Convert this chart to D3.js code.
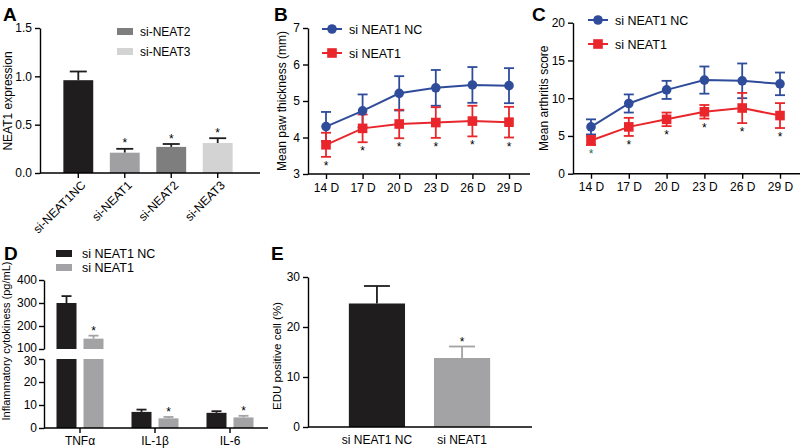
<!DOCTYPE html>
<html>
<head>
<meta charset="utf-8">
<script src="https://cdn.jsdelivr.net/npm/d3@7"></script>
<style>
body { margin: 0; background: #fff; }
svg { font-family: "Liberation Sans", Arial, sans-serif; }
.axis path, .axis line { stroke: #000; stroke-width: 1.4; }
.axis text { font-size: 12px; fill: #000; font-family: "Liberation Sans", Arial, sans-serif; }
</style>
</head>
<body>
<svg id="fig" width="800" height="448"></svg>
<script>
// ---- data ----
const aGroups = ["si-NEAT1NC", "si-NEAT1", "si-NEAT2", "si-NEAT3"];
const aMean = [0.96, 0.21, 0.27, 0.31];
const aErr = [0.09, 0.04, 0.03, 0.05];
const aStar = [false, true, true, true];
const aLegend = ["si-NEAT2", "si-NEAT3"];

const days = ["14 D", "17 D", "20 D", "23 D", "26 D", "29 D"];
const seriesNames = ["si NEAT1 NC", "si NEAT1"];
const bNC = [4.3, 4.73, 5.21, 5.36, 5.44, 5.42];
const bNCErr = [0.4, 0.45, 0.47, 0.49, 0.49, 0.48];
const bSi = [3.8, 4.25, 4.37, 4.41, 4.45, 4.42];
const bSiErr = [0.33, 0.38, 0.39, 0.42, 0.42, 0.42];

const cNC = [6.2, 9.3, 11.1, 12.4, 12.3, 11.9];
const cNCErr = [1.0, 1.2, 1.2, 1.8, 2.3, 1.5];
const cSi = [4.4, 6.2, 7.2, 8.2, 8.7, 7.7];
const cSiErr = [0.6, 1.2, 0.9, 0.9, 2.0, 1.65];

const dCats = ["TNFα", "IL-1β", "IL-6"];
const dNC = [300, 7.0, 6.6];
const dNCErr = [30, 1.0, 0.7];
const dSi = [145, 4.2, 4.6];
const dSiErr = [13, 0.6, 0.7];

const eGroups = ["si NEAT1 NC", "si NEAT1"];
const eMean = [24.7, 13.8];
const eErr = [3.5, 2.3];

// ---- style ----
const black = "#1f1d1e";
const gray = "#a3a3a5";
const aColors = [black, "#a0a0a2", "#7e7e7f", "#d3d3d3"];
const blue = "#2f4c9b";
const red = "#e8262b";

const svg = d3.select("#fig");

function letter(t, x, y) {
  svg.append("text").attr("x", x).attr("y", y)
    .attr("font-size", 19).attr("font-weight", "bold").text(t);
}
function star(x, y, color) {
  svg.append("text").attr("x", x).attr("y", y)
    .attr("text-anchor", "middle").attr("font-size", 12)
    .attr("fill", color || "#000").text("*");
}
function yTitle(t, x, y, size) {
  svg.append("text")
    .attr("transform", `translate(${x},${y}) rotate(-90)`)
    .attr("text-anchor", "middle").attr("font-size", size || 12).text(t);
}
function hline(x1, x2, y) {
  svg.append("line").attr("x1", x1).attr("x2", x2).attr("y1", y).attr("y2", y)
    .attr("stroke", "#000").attr("stroke-width", 1.4);
}
function errBar(x, y1, y2, w, color) {
  svg.append("line").attr("x1", x).attr("x2", x).attr("y1", y1).attr("y2", y2)
    .attr("stroke", color).attr("stroke-width", 1.8);
  svg.append("line").attr("x1", x - w / 2).attr("x2", x + w / 2).attr("y1", y2).attr("y2", y2)
    .attr("stroke", color).attr("stroke-width", 1.8);
}

// ================= Panel A =================
letter("A", 3, 21);
const yA = d3.scaleLinear().domain([0, 1.5]).range([173, 28]);
const xA = d3.scaleBand().domain(aGroups).range([55, 241]).paddingInner(0.357).paddingOuter(0.18);

aGroups.forEach((g, i) => {
  const cx = xA(g) + xA.bandwidth() / 2;
  errBar(cx, yA(aMean[i]), yA(aMean[i] + aErr[i]), 17, black);
});
svg.append("g").selectAll("rect").data(aGroups).join("rect")
  .attr("x", d => xA(d)).attr("width", xA.bandwidth())
  .attr("y", (d, i) => yA(aMean[i])).attr("height", (d, i) => yA(0) - yA(aMean[i]))
  .attr("fill", (d, i) => aColors[i]);
aGroups.forEach((g, i) => {
  if (aStar[i]) star(xA(g) + xA.bandwidth() / 2, yA(aMean[i] + aErr[i]) - 1.5);
});
svg.append("g").attr("class", "axis").attr("transform", "translate(40,0)")
  .call(d3.axisLeft(yA).tickValues([0, 0.5, 1.0, 1.5]).tickFormat(d3.format(".1f")).tickSize(5).tickSizeOuter(0));
hline(40, 260, 173);
svg.append("g").attr("class", "axis").attr("transform", "translate(0,173)")
  .call(d3.axisBottom(xA).tickSize(5).tickFormat(""))
  .call(g => g.select(".domain").remove());
svg.append("g").selectAll("text").data(aGroups).join("text")
  .attr("transform", d => `translate(${xA(d) + xA.bandwidth() / 2 + 5},${183}) rotate(-45)`)
  .attr("text-anchor", "end").attr("dy", "0.35em").attr("font-size", 12).text(d => d);
aLegend.forEach((t, i) => {
  svg.append("rect").attr("x", 117).attr("y", 28 + i * 20).attr("width", 16).attr("height", 7)
    .attr("fill", aColors[i + 2]);
  svg.append("text").attr("x", 140).attr("y", 36 + i * 20).attr("font-size", 12).text(t);
});
yTitle("NEAT1 expression", 12, 101);

// ================= Line panels B and C =================
function linePanel(opt) {
  const x = d3.scalePoint().domain(days).range(opt.xr);
  const y = d3.scaleLinear().domain(opt.yd).range(opt.yr);
  const sets = [
    { v: opt.nc, e: opt.ncErr, c: blue, shape: "circle" },
    { v: opt.si, e: opt.siErr, c: red, shape: "square" }
  ];
  sets.forEach(s => {
    days.forEach((d, i) => {
      errBar(x(d), y(s.v[i]), y(s.v[i] + s.e[i]), 10, s.c);
      errBar(x(d), y(s.v[i]), y(s.v[i] - s.e[i]), 10, s.c);
    });
  });
  sets.forEach(s => {
    svg.append("path").datum(s.v)
      .attr("fill", "none").attr("stroke", s.c).attr("stroke-width", 2)
      .attr("d", d3.line().x((v, i) => x(days[i])).y(v => y(v)));
    days.forEach((d, i) => marker(s.shape, x(d), y(s.v[i]), s.c));
  });
  days.forEach((d, i) => star(x(d), y(opt.si[i] - opt.siErr[i]) + 13, i === 0 ? opt.firstStar : "#000"));
  svg.append("g").attr("class", "axis").attr("transform", `translate(${opt.ax},0)`)
    .call(d3.axisLeft(y).tickValues(opt.ticks).tickFormat(d3.format("d")).tickSize(5).tickSizeOuter(0))
    .call(g => g.selectAll("text").attr("font-size", 13));
  hline(opt.ax, opt.axEnd, opt.yr[0]);
  svg.append("g").attr("class", "axis").attr("transform", `translate(0,${opt.yr[0]})`)
    .call(d3.axisBottom(x).tickSize(5).tickPadding(4))
    .call(g => g.select(".domain").remove())
    .call(g => g.selectAll("text").attr("font-size", 13));
  sets.forEach((s, i) => {
    const ly = opt.legY + i * 24;
    svg.append("line").attr("x1", opt.legX).attr("x2", opt.legX + 20).attr("y1", ly).attr("y2", ly)
      .attr("stroke", s.c).attr("stroke-width", 2);
    marker(s.shape, opt.legX + 10, ly, s.c);
    svg.append("text").attr("x", opt.legX + 27).attr("y", ly + 4.5).attr("font-size", 12.5).text(seriesNames[i]);
  });
  yTitle(opt.title, opt.titleX, (opt.yr[0] + opt.yr[1]) / 2);
}
function marker(shape, x, y, c) {
  if (shape === "circle") {
    svg.append("circle").attr("cx", x).attr("cy", y).attr("r", 4.8).attr("fill", c);
  } else {
    svg.append("rect").attr("x", x - 4.8).attr("y", y - 4.8).attr("width", 9.6).attr("height", 9.6).attr("fill", c);
  }
}

letter("B", 274, 21);
linePanel({
  xr: [326, 509], yd: [3, 7], yr: [174, 28], ticks: [3, 4, 5, 6, 7],
  nc: bNC, ncErr: bNCErr, si: bSi, siErr: bSiErr,
  ax: 308, axEnd: 530, legX: 322, legY: 29, title: "Mean paw thickness (mm)", titleX: 286, firstStar: "#000"
});
letter("C", 532, 21);
linePanel({
  xr: [591, 780], yd: [0, 20], yr: [173.7, 22.7], ticks: [0, 5, 10, 15, 20],
  nc: cNC, ncErr: cNCErr, si: cSi, siErr: cSiErr,
  ax: 573, axEnd: 800, legX: 588, legY: 20, title: "Mean arthritis score", titleX: 548, firstStar: "#1f6e5c"
});

// ================= Panel D (broken axis) =================
letter("D", 4, 260);
const yLo = d3.scaleLinear().domain([0, 30]).range([428, 359]);
const yHi = d3.scaleLinear().domain([100, 400]).range([349, 280]);
const xD = d3.scaleBand().domain(dCats).range([42.5, 267.5]);
const xD1 = d3.scalePoint().domain(seriesNames).range([-13.5, 13.5]);
const dSets = [
  { v: dNC, e: dNCErr, c: black },
  { v: dSi, e: dSiErr, c: gray }
];
dSets.forEach((s, si) => {
  dCats.forEach((cat, i) => {
    const cx = xD(cat) + xD.bandwidth() / 2 + xD1(seriesNames[si]);
    const val = s.v[i];
    const topY = val > 30 ? yHi(val) : yLo(val);
    const errY = val > 30 ? yHi(val + s.e[i]) : yLo(val + s.e[i]);
    errBar(cx, topY, errY, 10, s.c);
    svg.append("rect").attr("x", cx - 10).attr("width", 20)
      .attr("y", yLo(Math.min(val, 30))).attr("height", yLo(0) - yLo(Math.min(val, 30)))
      .attr("fill", s.c);
    if (val > 30) {
      svg.append("rect").attr("x", cx - 10).attr("width", 20)
        .attr("y", yHi(val)).attr("height", yHi(100) - yHi(val)).attr("fill", s.c);
    }
    if (si === 1) star(cx, errY - 1);
  });
});
svg.append("g").attr("class", "axis").attr("transform", "translate(44,0)")
  .call(d3.axisLeft(yLo).tickValues([0, 10, 20, 30]).tickSize(5).tickPadding(2).tickSizeOuter(0))
  .call(g => g.selectAll("text").attr("font-size", 11))
  .call(g => g.selectAll("text").filter(d => d === 30).attr("transform", "translate(0,1.3)"));
svg.append("g").attr("class", "axis").attr("transform", "translate(44,0)")
  .call(d3.axisLeft(yHi).tickValues([100, 200, 300, 400]).tickSize(5).tickPadding(2).tickSizeOuter(0))
  .call(g => g.selectAll("text").attr("font-size", 11))
  .call(g => g.selectAll("text").filter(d => d === 100).attr("transform", "translate(0,-1.3)"));
hline(44, 268, 428);
svg.append("g").attr("class", "axis").attr("transform", "translate(0,428)")
  .call(d3.axisBottom(xD).tickSize(5).tickPadding(3))
  .call(g => g.select(".domain").remove())
  .call(g => g.selectAll("text").attr("font-size", 12.5));
dSets.forEach((s, i) => {
  svg.append("rect").attr("x", 56).attr("y", 250 + i * 14).attr("width", 16).attr("height", 7).attr("fill", s.c);
  svg.append("text").attr("x", 82).attr("y", 258 + i * 14).attr("font-size", 12.5).text(seriesNames[i]);
});
yTitle("Inflammatory cytokiness (pg/mL)", 10, 341, 11);

// ================= Panel E =================
letter("E", 271, 260);
const yE = d3.scaleLinear().domain([0, 30]).range([427, 277]);
const xE = d3.scaleBand().domain(eGroups).range([308, 531]).paddingInner(0.34).paddingOuter(0.48);
const eColors = [black, gray];
eGroups.forEach((g, i) => {
  const cx = xE(g) + xE.bandwidth() / 2;
  errBar(cx, yE(eMean[i]), yE(eMean[i] + eErr[i]), 26, eColors[i]);
});
svg.append("g").selectAll("rect").data(eGroups).join("rect")
  .attr("x", d => xE(d)).attr("width", xE.bandwidth())
  .attr("y", (d, i) => yE(eMean[i])).attr("height", (d, i) => yE(0) - yE(eMean[i]))
  .attr("fill", (d, i) => eColors[i]);
star(xE(eGroups[1]) + xE.bandwidth() / 2, yE(eMean[1] + eErr[1]) - 1);
svg.append("g").attr("class", "axis").attr("transform", "translate(308,0)")
  .call(d3.axisLeft(yE).tickValues([0, 10, 20, 30]).tickSize(5).tickSizeOuter(0))
  .call(g => g.selectAll("text").attr("font-size", 13));
hline(308, 532, 427);
svg.append("g").attr("class", "axis").attr("transform", "translate(0,427)")
  .call(d3.axisBottom(xE).tickSize(0).tickPadding(8))
  .call(g => g.select(".domain").remove())
  .call(g => g.selectAll("text").attr("font-size", 12.5));
yTitle("EDU positive cell (%)", 281, 356, 11.5);
</script>
</body>
</html>
